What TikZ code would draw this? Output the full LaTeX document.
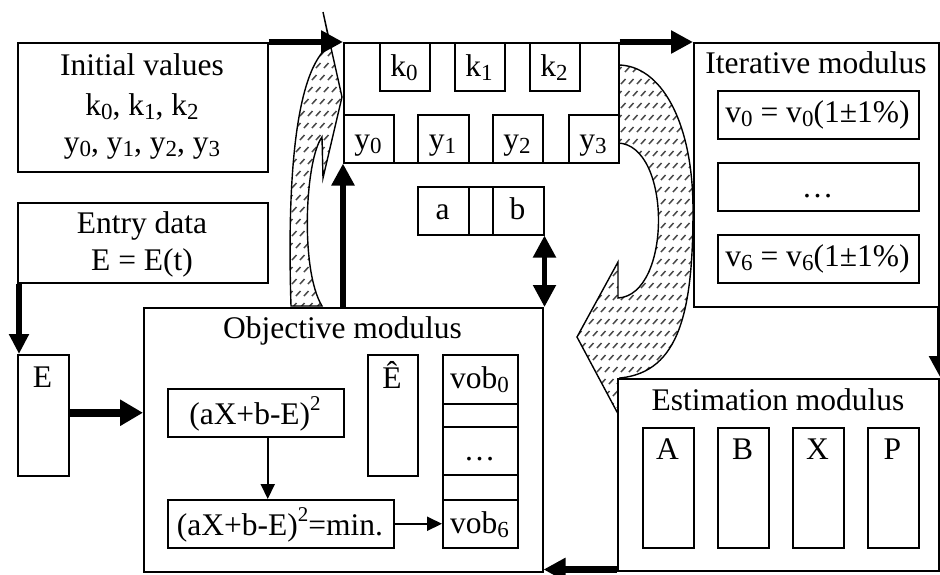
\documentclass[tikz,border=0pt]{standalone}
\usepackage{fontspec}
\setmainfont{Liberation Serif}
\usetikzlibrary{arrows.meta}
\tikzset{
  box/.style={draw, line width=1.5pt, fill=white, inner sep=0pt, anchor=north west},
  txt/.style={anchor=base, inner sep=0pt, font=\fontsize{31.5}{36}\selectfont},
  bigarrow/.style={line width=6.5pt, -{Triangle[length=22pt,width=22pt]}},
  dblarrow/.style={line width=5pt, {Triangle[length=22pt,width=22pt]}-{Triangle[length=22pt,width=22pt]}},
  thinarrow/.style={line width=2pt, -{Triangle[length=15pt,width=14pt]}},
  hatch/.style n args={4}{draw, line width=1.4pt, fill=white,
    path picture={
      \foreach \r in {0,...,#3} {
        \foreach \c in {0,...,#4} {
          \draw[black!72, line width=1.5pt] ({#1+\c*8+mod(\r,2)*4},{#2+\r*12}) -- ++(4.5,-5);
        }
      }
    }}
}
\newcommand\mysub[1]{\raisebox{-4pt}{\fontsize{23}{26}\selectfont #1}}
\newcommand\mysup[1]{\raisebox{14pt}{\fontsize{21}{24}\selectfont #1}}
\newcommand\mkbox[5]{\node[box, minimum width={(#4-#2)*1pt}, minimum height={(#5-#3)*1pt}] (#1) at (#2,#3) {};}
\newcommand\mktxt[4]{\node[txt] (#1) at (#2,#3) {#4};}
\begin{document}
\begin{tikzpicture}[x=1pt,y=-1pt]
\useasboundingbox (0,0) rectangle (940,574);
% hatched curved arrows
\path[hatch={280}{8}{26}{9}] (291,306) .. controls (287,180) and (295,70) .. (330,45) -- (323,12) -- (342,97) -- (323,178) -- (322,137) .. controls (305,160) and (300,270) .. (322,306) -- cycle;
\path[hatch={565}{60}{34}{18}] (618,65) .. controls (660,65) and (693,120) .. (693,210) .. controls (693,310) and (680,372) .. (620,378) -- (640,455) -- (577,337) -- (618,262) -- (618,298) .. controls (672,295) and (672,145) .. (618,143) -- cycle;
% initial values
\mkbox{init}{17}{42}{267}{171}
\mktxt{initT1}{142}{75}{Initial values}
\mktxt{initT2}{142}{115}{k\mysub{0}, k\mysub{1}, k\mysub{2}}
\mktxt{initT3}{142}{152}{y\mysub{0}, y\mysub{1}, y\mysub{2}, y\mysub{3}}
% top box
\mkbox{top}{343}{42}{618}{162}
\mkbox{k0}{379}{42}{429}{90}
\mkbox{k1}{454}{42}{504}{90}
\mkbox{k2}{529}{42}{579}{90}
\mktxt{k0T}{404}{76}{k\mysub{0}}
\mktxt{k1T}{479}{76}{k\mysub{1}}
\mktxt{k2T}{554}{76}{k\mysub{2}}
\mkbox{y0}{343}{114}{393}{162}
\mkbox{y1}{417}{114}{468}{162}
\mkbox{y2}{492}{114}{542}{162}
\mkbox{y3}{568}{114}{618}{162}
\mktxt{y0T}{368}{149}{y\mysub{0}}
\mktxt{y1T}{442.5}{149}{y\mysub{1}}
\mktxt{y2T}{517}{149}{y\mysub{2}}
\mktxt{y3T}{593}{149}{y\mysub{3}}
% a b
\mkbox{a}{417}{186}{468}{234}
\mkbox{ab}{468}{186}{492}{234}
\mkbox{b}{492}{186}{543}{234}
\mktxt{aT}{442.5}{219}{a}
\mktxt{bT}{517.5}{219}{b}
% iterative modulus
\mkbox{iter}{693}{42}{938}{306}
\mktxt{iterT}{816}{73}{Iterative modulus}
\mkbox{v0}{717}{90}{918}{138}
\mkbox{vdots}{717}{162}{918}{210}
\mkbox{v6}{717}{234}{918}{282}
\mktxt{v0T}{817.5}{122}{v\mysub{0} = v\mysub{0}(1±1\%)}
\mktxt{vdotsT}{817.5}{197}{…}
\mktxt{v6T}{817.5}{266}{v\mysub{6} = v\mysub{6}(1±1\%)}
% entry data
\mkbox{entry}{17}{202}{267}{282}
\mktxt{entryT1}{142}{233}{Entry data}
\mktxt{entryT2}{142}{270}{E = E(t)}
\mkbox{Ebox}{17}{354}{68}{475}
\mktxt{EboxT}{42.5}{387}{E}
% objective modulus
\mkbox{obj}{143}{307}{542}{571}
\mktxt{objT}{342.5}{338}{Objective modulus}
\mkbox{f1}{167}{388}{343}{436}
\mktxt{f1T}{255}{424}{(aX+b-E)\mysup{2}}
\mkbox{f2}{167}{499}{393}{547}
\mktxt{f2T}{280}{535}{(aX+b-E)\mysup{2}=min.}
\mkbox{Ehat}{367}{354}{417}{475}
\mktxt{EhatT}{392}{388}{Ê}
\mkbox{vob0}{442}{354}{517}{403}
\mkbox{g1}{442}{403}{517}{426}
\mkbox{vobd}{442}{426}{517}{474}
\mkbox{g2}{442}{474}{517}{499}
\mkbox{vob6}{442}{499}{517}{547}
\mktxt{vob0T}{479.5}{388}{vob\mysub{0}}
\mktxt{vobdT}{479.5}{460}{…}
\mktxt{vob6T}{479.5}{533}{vob\mysub{6}}
% estimation modulus
\mkbox{est}{617}{378}{938}{570}
\mktxt{estT}{778}{410}{Estimation modulus}
\mkbox{A}{642}{427}{693}{547}
\mkbox{B}{717}{427}{768}{547}
\mkbox{X}{792}{427}{843}{547}
\mkbox{P}{867}{427}{918}{547}
\mktxt{AT}{667.5}{459}{A}
\mktxt{BT}{742.5}{459}{B}
\mktxt{XT}{817.5}{459}{X}
\mktxt{PT}{892.5}{459}{P}
% connectors
\draw[bigarrow] (init.north east) -- (top.north west);
\draw[bigarrow] (top.north east) -- (iter.north west);
\draw[bigarrow] (top.south west |- obj.north) -- (top.south west);
\draw[dblarrow] (b.south east) -- (b.south east |- obj.north);
\draw[bigarrow, line width=5.5pt, -{Triangle[length=20pt,width=19pt]}] ([xshift=2pt]entry.south west) -- ([xshift=2pt]Ebox.north west);
\draw[bigarrow, line width=8pt, -{Triangle[length=23pt,width=25pt]}] (Ebox.east |- f1) -- (obj.west |- f1);
\draw[thinarrow] ([xshift=12pt]f1.south) -- ([xshift=12pt]f1.south |- f2.north);
\draw[thinarrow] (f2.east) -- (vob6.west);
\draw[bigarrow] ([xshift=1pt]iter.south east) -- ([xshift=1pt]est.north east);
\draw[bigarrow] ([yshift=2pt]est.south west) -- ([yshift=2pt]est.south west -| obj.east);
\end{tikzpicture}
\end{document}
